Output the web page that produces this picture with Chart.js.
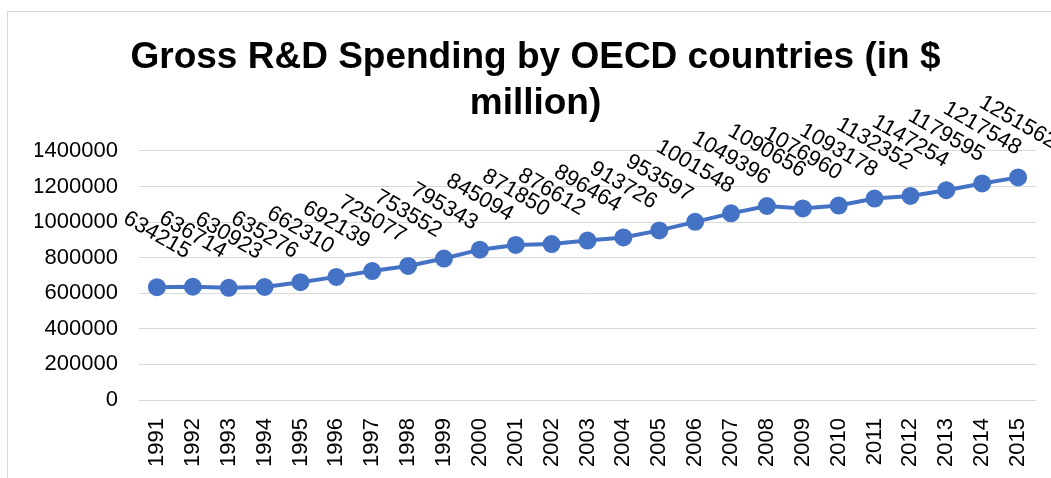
<!DOCTYPE html>
<html>
<head>
<meta charset="utf-8">
<script src="https://cdn.jsdelivr.net/npm/chart.js@4.4.0/dist/chart.umd.min.js"></script>
<style>
    html, body { margin: 0; padding: 0; background: #fff; overflow: hidden; }
    .frame {
        position: absolute;
        left: 7px;
        top: 11px;
        width: 1055px;
        height: 466px;
        border: 1px solid #d9d9d9;
    }
</style>
</head>
<body>
<div class="frame">
    <canvas id="myChart" width="1055" height="466"></canvas>
</div>
<script>
const years = ["1991", "1992", "1993", "1994", "1995", "1996", "1997", "1998", "1999", "2000",
    "2001", "2002", "2003", "2004", "2005", "2006", "2007", "2008", "2009", "2010",
    "2011", "2012", "2013", "2014", "2015"];
const spending = [634215, 636714, 630923, 635276, 662310, 692139, 725077, 753552, 795343, 845094,
    871850, 876612, 896464, 913726, 953597, 1001548, 1049396, 1090656, 1076960, 1093178,
    1132352, 1147254, 1179595, 1217548, 1251562];
const yTicks = [0, 200000, 400000, 600000, 800000, 1000000, 1200000, 1400000];

const fontFamily = "'Liberation Sans', Arial, sans-serif";
const lineColor = "#4472C4";

// Draws the rotated value labels above every point.
const valueLabels = {
    id: "valueLabels",
    afterDatasetsDraw(chart) {
        const ctx = chart.ctx;
        const meta = chart.getDatasetMeta(0);
        const angle = 30 * Math.PI / 180;
        ctx.save();
        ctx.font = "22px " + fontFamily;
        ctx.fillStyle = "#000";
        ctx.textAlign = "center";
        ctx.textBaseline = "middle";
        meta.data.forEach((point, i) => {
            let text = String(spending[i]);
            let w = ctx.measureText(text).width;
            let boxH = w * Math.sin(angle) + 20 * Math.cos(angle);
            ctx.save();
            ctx.translate(point.x, point.y - 25 - boxH / 2);
            ctx.rotate(angle);
            ctx.fillText(text, 0, 0);
            ctx.restore();
        });
        ctx.restore();
    }
};

new Chart("myChart", {
    type: "line",
    data: {
        labels: years,
        datasets: [{
            data: spending,
            borderColor: lineColor,
            backgroundColor: lineColor,
            borderWidth: 4,
            pointRadius: 7,
            pointBackgroundColor: lineColor,
            pointBorderColor: lineColor,
            tension: 0
        }]
    },
    options: {
        responsive: false,
        animation: false,
        layout: {
            padding: { left: 27, right: 27, top: 0, bottom: 0 }
        },
        plugins: {
            legend: { display: false },
            tooltip: { enabled: false },
            title: {
                display: true,
                text: ["Gross R&D Spending by OECD countries (in $", "million)"],
                color: "#000",
                font: { family: fontFamily, size: 37, weight: "bold", lineHeight: 1.243 },
                padding: { top: 23, bottom: 24 }
            }
        },
        scales: {
            x: {
                offset: true,
                grid: { display: false },
                border: { display: false },
                ticks: {
                    color: "#000",
                    font: { family: fontFamily, size: 22 },
                    minRotation: 90,
                    maxRotation: 90,
                    autoSkip: false,
                    padding: 10
                },
                afterFit(scale) {
                    scale.height = 78;
                }
            },
            y: {
                min: 0,
                max: 1400000,
                grid: { color: "#d9d9d9", lineWidth: 1, drawTicks: false },
                border: { display: false },
                afterBuildTicks(scale) {
                    scale.ticks = yTicks.map(v => ({ value: v }));
                },
                ticks: {
                    color: "#000",
                    font: { family: fontFamily, size: 22 },
                    padding: 21,
                    callback: v => String(v)
                },
                afterFit(scale) {
                    scale.width = 104;
                }
            }
        }
    },
    plugins: [valueLabels]
});
</script>
</body>
</html>
